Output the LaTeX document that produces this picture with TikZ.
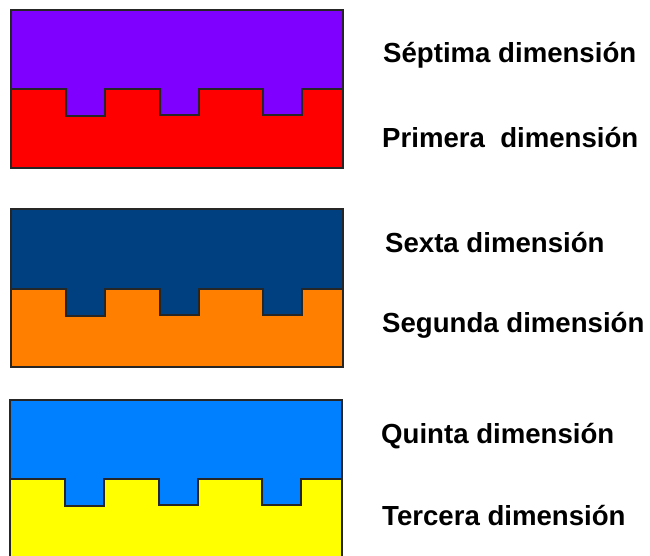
\documentclass[tikz,border=0pt]{standalone}
\usepackage{fontspec}
\setmainfont{Liberation Sans}
\definecolor{cpurple}{HTML}{7F00FF}
\definecolor{cred}{HTML}{FF0000}
\definecolor{cnavy}{HTML}{004080}
\definecolor{corange}{HTML}{FF8000}
\definecolor{cblue}{HTML}{0080FF}
\definecolor{cyellow}{HTML}{FFFF00}
\tikzset{
  edge/.style={draw=black!85, line width=1.2pt, line join=miter},
  lbl/.style={anchor=base west, inner sep=0pt, font=\fontsize{27.6}{30}\selectfont\bfseries},
}
\newcommand{\mybox}[7]{%
  % #1 left, #2 right, #3 top, #4 divider, #5 bottom, #6 top colour, #7 bottom colour
  \path[fill=#7, edge] (#1,#4) rectangle (#2,#5);
  \path[fill=#6, edge] (#1,#3) -- (#2,#3) -- (#2,#4) -- (#1+291,#4) -- (#1+291,#4+26) -- (#1+252,#4+26)
     -- (#1+252,#4) -- (#1+188,#4) -- (#1+188,#4+26) -- (#1+149,#4+26) -- (#1+149,#4)
     -- (#1+94,#4) -- (#1+94,#4+27) -- (#1+55,#4+27) -- (#1+55,#4) -- (#1,#4) -- cycle;
}
\begin{document}
\begin{tikzpicture}[x=1pt,y=-1pt]
\useasboundingbox (0,0) rectangle (650,555);
\clip (0,0) rectangle (650,555);
\mybox{11}{343}{10}{89}{168}{cpurple}{cred}
\mybox{11}{343}{209}{289}{367}{cnavy}{corange}
\mybox{10}{342}{400}{479}{600}{cblue}{cyellow}
\node[lbl] (t7) at (383,62) {Séptima dimensión};
\node[lbl] (t1) at (382,147) {Primera\ \ dimensión};
\node[lbl] (t6) at (385,252) {Sexta dimensión};
\node[lbl] (t2) at (382,332) {Segunda dimensión};
\node[lbl] (t5) at (381,443) {Quinta dimensión};
\node[lbl] (t3) at (382,525) {Tercera dimensión};
\end{tikzpicture}
\end{document}
